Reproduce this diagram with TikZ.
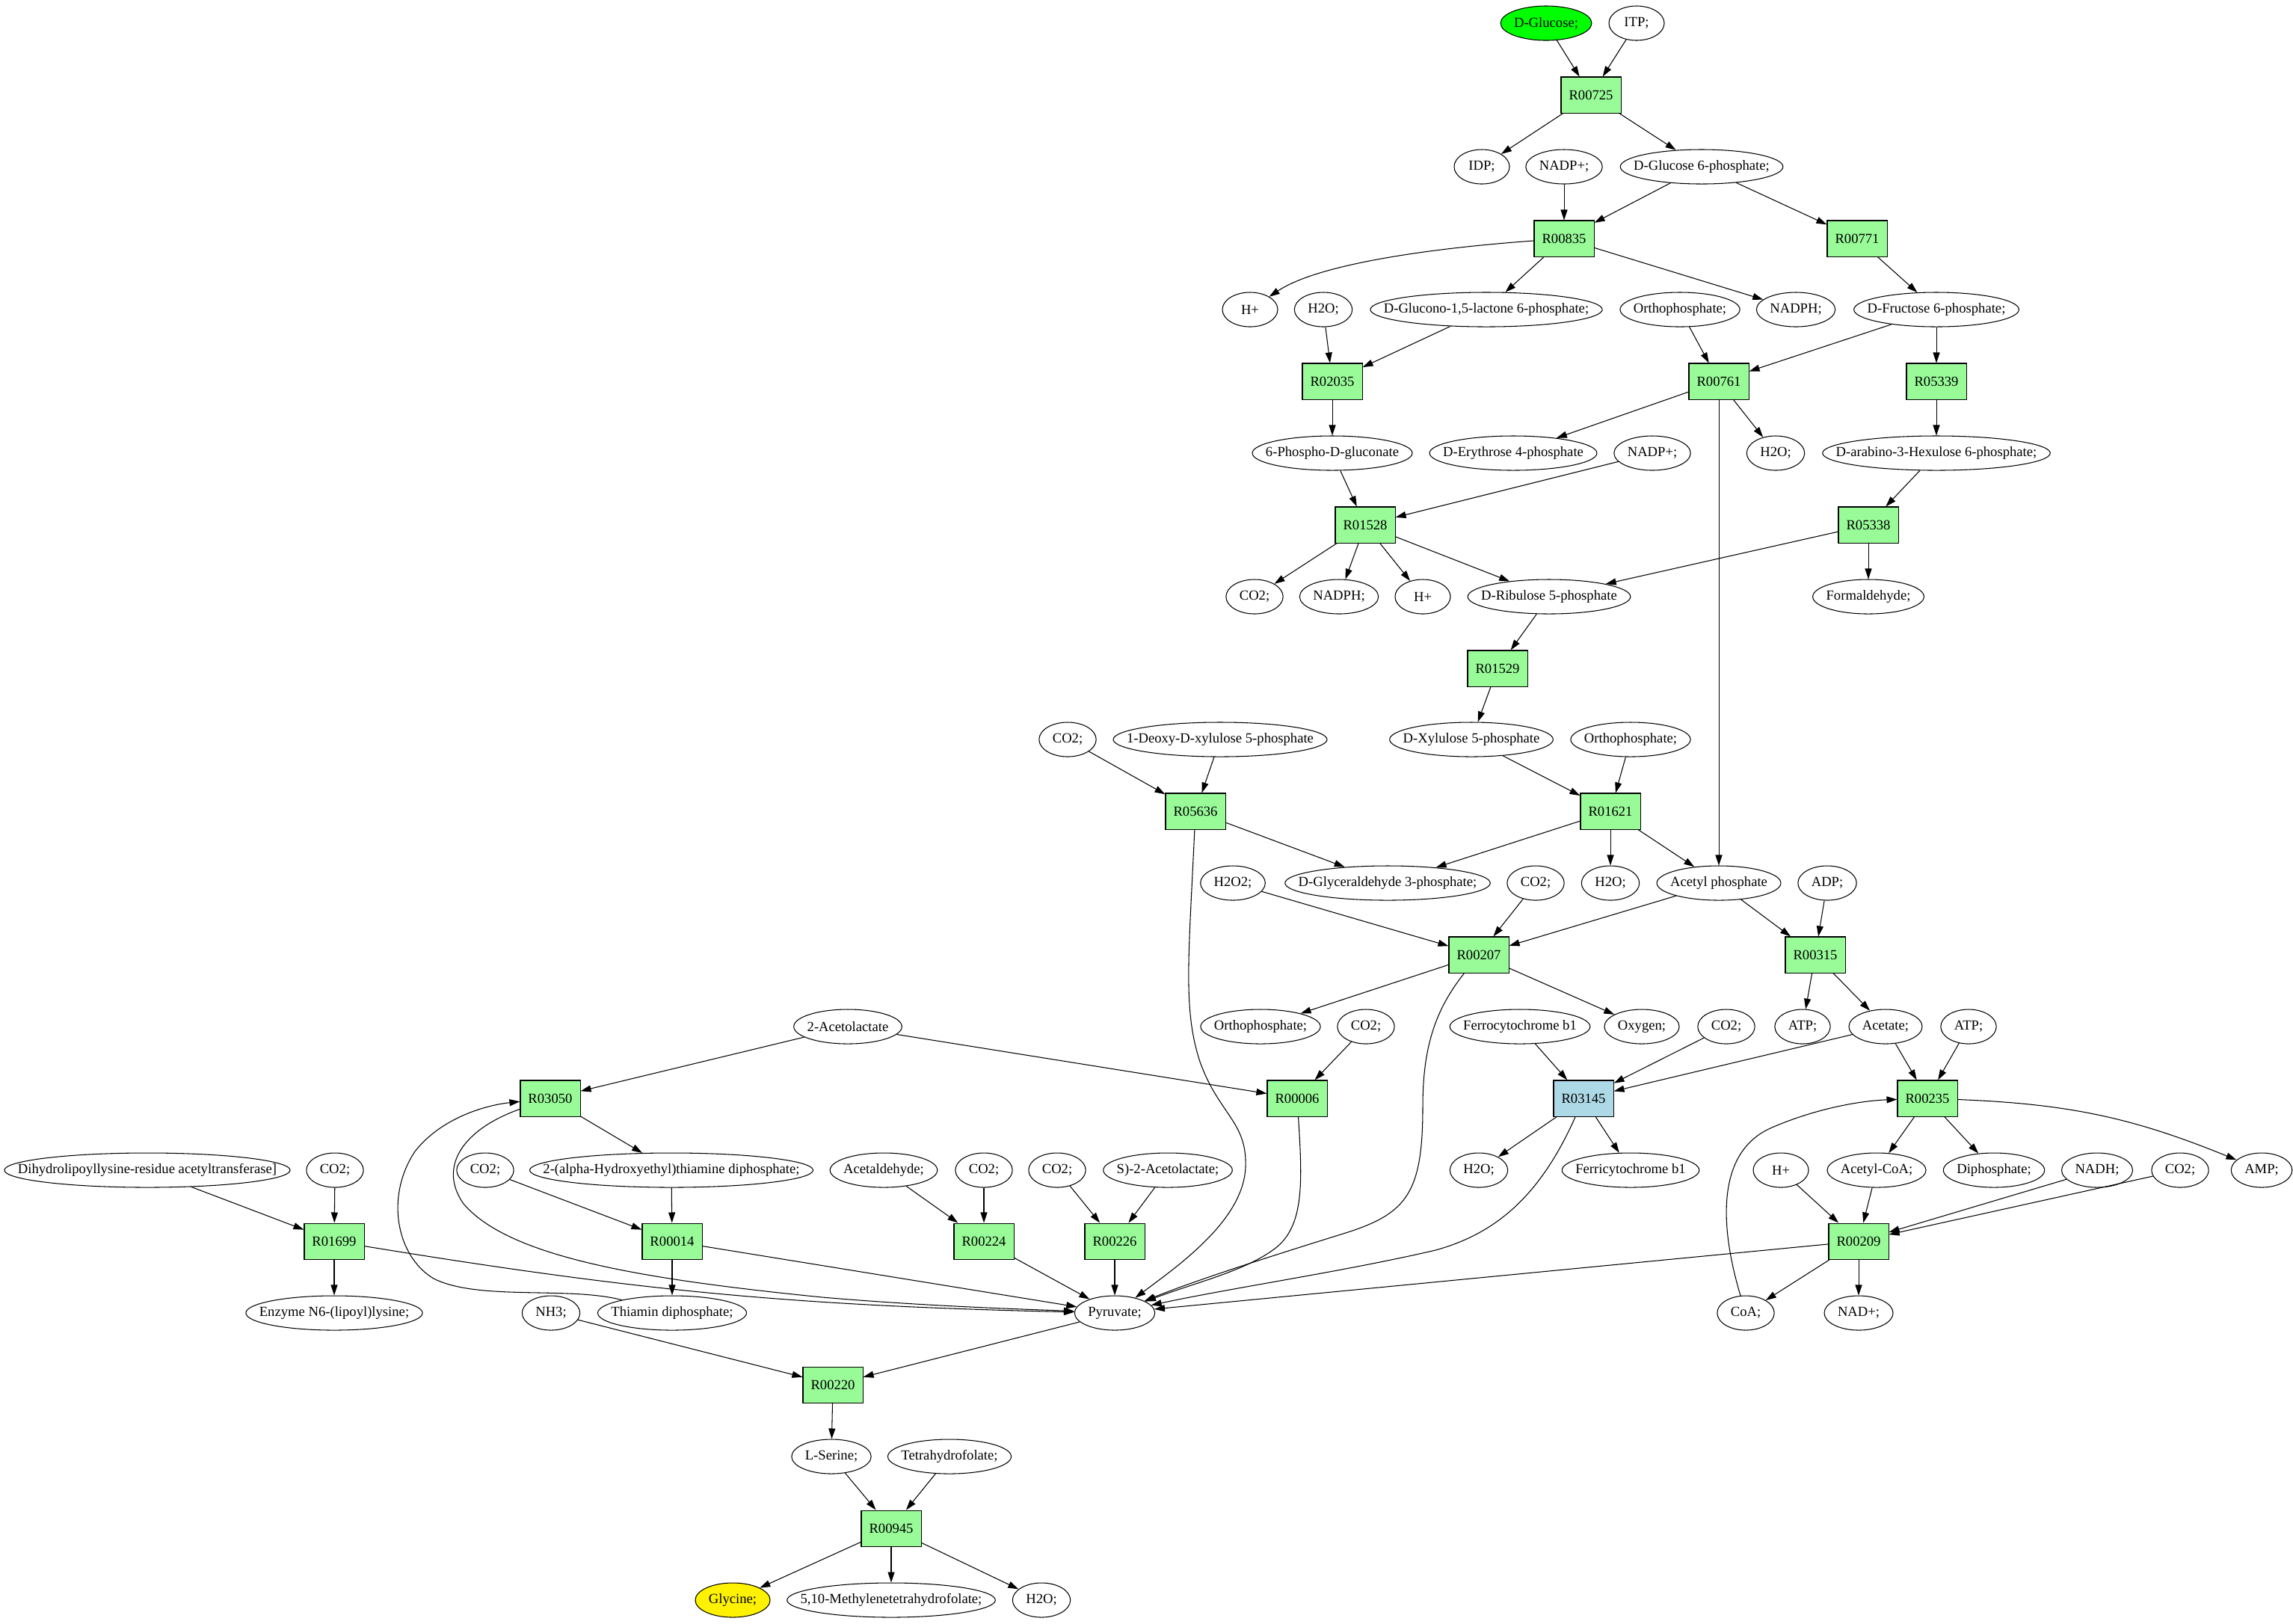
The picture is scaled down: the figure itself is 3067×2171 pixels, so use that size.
\documentclass[tikz,border=0pt]{standalone}
\usepackage{fontspec}
\setmainfont{Liberation Serif}
\usepackage{xcolor}
\usetikzlibrary{arrows.meta,shapes.geometric}

\definecolor{rgreen}{HTML}{98FB98}
\definecolor{rblue}{HTML}{ADD8E6}
\definecolor{glcgreen}{HTML}{00FF00}

\tikzset{
  % the label box is squeezed so that the ellipse hugs the text
  met/.style={ellipse, draw, inner xsep=0.127cm, inner ysep=0.04cm, minimum width=0.74cm, minimum height=0.46cm,
    execute at begin node={\setbox0=\hbox\bgroup},
    execute at end node={\egroup\hbox to 0.7071\wd0{\hss\box0\hss}}},
  rxn/.style={draw, fill=rgreen, minimum width=0.8cm, minimum height=0.48cm, inner sep=0pt},
  flow/.style={-{Triangle[length=0.14cm,width=0.09cm]}}
}

\begin{document}
\begin{tikzpicture}[x=0.01cm, y=-0.01cm, line width=0.3pt, font=\fontsize{5.3}{6}\selectfont]
  \useasboundingbox (0,0) rectangle (3067,2171);

  % Glucose and the pentose phosphate part
  \node[met, fill=glcgreen] (glc) at (2068,31) {D-Glucose;};
  \node[met] (itp) at (2189,31) {ITP;};
  \node[rxn] (r00725) at (2128,127) {R00725};
  \node[met] (idp) at (1982,223) {IDP;};
  \node[met] (nadpa) at (2092,223) {NADP+;};
  \node[met] (gsixp) at (2276,223) {D-Glucose 6-phosphate;};
  \node[rxn] (r00835) at (2092,319) {R00835};
  \node[rxn] (r00771) at (2484,319) {R00771};
  \node[met] (hpa) at (1672,414) {H+};
  \node[met] (h2oa) at (1770,414) {H2O;};
  \node[met] (glucono) at (1988,414) {D-Glucono-1,5-lactone 6-phosphate;};
  \node[met] (phosa) at (2247,414) {Orthophosphate;};
  \node[met] (nadpha) at (2402,414) {NADPH;};
  \node[met] (fsixp) at (2590,414) {D-Fructose 6-phosphate;};
  \node[rxn] (r02035) at (1782,510) {R02035};
  \node[rxn] (r00761) at (2299,510) {R00761};
  \node[rxn] (r05339) at (2590,510) {R05339};
  \node[met] (pgluc) at (1782,606) {6-Phospho-D-gluconate};
  \node[met] (ery) at (2024,606) {D-Erythrose 4-phosphate};
  \node[met] (nadpb) at (2210,606) {NADP+;};
  \node[met] (h2ob) at (2375,606) {H2O;};
  \node[met] (hexu) at (2590,606) {D-arabino-3-Hexulose 6-phosphate;};
  \node[rxn] (r01528) at (1826,702) {R01528};
  \node[rxn] (r05338) at (2499,702) {R05338};
  \node[met] (co2a) at (1678,798) {CO2;};
  \node[met] (nadphb) at (1791,798) {NADPH;};
  \node[met] (hpb) at (1903,798) {H+};
  \node[met] (ribu) at (2072,798) {D-Ribulose 5-phosphate};
  \node[met] (form) at (2499,798) {Formaldehyde;};
  \node[rxn] (r01529) at (2003,894) {R01529};
  \node[met] (co2b) at (1428,989) {CO2;};
  \node[met] (deoxy) at (1632,989) {1-Deoxy-D-xylulose 5-phosphate};
  \node[met] (xylu) at (1968,989) {D-Xylulose 5-phosphate};
  \node[met] (phosb) at (2181,989) {Orthophosphate;};
  \node[rxn] (r05636) at (1599,1085) {R05636};
  \node[rxn] (r01621) at (2154,1085) {R01621};
  \node[met] (hhoo) at (1649,1181) {H2O2;};
  \node[met] (gap) at (1856,1181) {D-Glyceraldehyde 3-phosphate;};
  \node[met] (co2c) at (2054,1181) {CO2;};
  \node[met] (h2oc) at (2154,1181) {H2O;};
  \node[met] (acp) at (2299,1181) {Acetyl phosphate};
  \node[met] (adp) at (2444,1181) {ADP;};
  \node[rxn] (r00207) at (1978,1277) {R00207};
  \node[rxn] (r00315) at (2428,1277) {R00315};

  % Reactions round pyruvate
  \node[met] (acl) at (1134,1373) {2-Acetolactate};
  \node[met] (phosc) at (1686,1373) {Orthophosphate;};
  \node[met] (co2d) at (1827,1373) {CO2;};
  \node[met] (ferro) at (2033,1373) {Ferrocytochrome b1};
  \node[met] (oxy) at (2196,1373) {Oxygen;};
  \node[met] (co2e) at (2309,1373) {CO2;};
  \node[met] (atpa) at (2411,1373) {ATP;};
  \node[met] (ace) at (2522,1373) {Acetate;};
  \node[met] (atpb) at (2633,1373) {ATP;};
  \node[rxn] (r03050) at (736,1469) {R03050};
  \node[rxn] (r00006) at (1735,1469) {R00006};
  \node[rxn, fill=rblue] (r03145) at (2118,1469) {R03145};
  \node[rxn] (r00235) at (2578,1469) {R00235};
  \node[met] (dihydro) at (197,1565) {Dihydrolipoyllysine-residue acetyltransferase]};
  \node[met] (co2f) at (448,1565) {CO2;};
  \node[met] (co2g) at (649,1565) {CO2;};
  \node[met] (hetpp) at (898,1565) {2-(alpha-Hydroxyethyl)thiamine diphosphate;};
  \node[met] (acald) at (1182,1565) {Acetaldehyde;};
  \node[met] (co2h) at (1316,1565) {CO2;};
  \node[met] (co2i) at (1414,1565) {CO2;};
  \node[met] (sacl) at (1562,1565) {S)-2-Acetolactate;};
  \node[met] (h2od) at (1978,1565) {H2O;};
  \node[met] (ferri) at (2181,1565) {Ferricytochrome b1};
  \node[met] (hpc) at (2382,1565) {H+};
  \node[met] (accoa) at (2510,1565) {Acetyl-CoA;};
  \node[met] (ppi) at (2667,1565) {Diphosphate;};
  \node[met] (nadh) at (2805,1565) {NADH;};
  \node[met] (co2j) at (2916,1565) {CO2;};
  \node[met] (amp) at (3025,1565) {AMP;};
  \node[rxn] (r01699) at (447,1660) {R01699};
  \node[rxn] (r00014) at (899,1660) {R00014};
  \node[rxn] (r00224) at (1316,1660) {R00224};
  \node[rxn] (r00226) at (1491,1660) {R00226};
  \node[rxn] (r00209) at (2486,1660) {R00209};
  \node[met] (lipoyl) at (447,1756) {Enzyme N6-(lipoyl)lysine;};
  \node[met] (nh3) at (737,1756) {NH3;};
  \node[met] (tpp) at (899,1756) {Thiamin diphosphate;};
  \node[met] (pyr) at (1491,1756) {Pyruvate;};
  \node[met] (coa) at (2335,1756) {CoA;};
  \node[met] (nad) at (2486,1756) {NAD+;};

  % Serine and glycine
  \node[rxn] (r00220) at (1114,1852) {R00220};
  \node[met] (ser) at (1112,1948) {L-Serine;};
  \node[met] (thf) at (1270,1948) {Tetrahydrofolate;};
  \node[rxn] (r00945) at (1192,2044) {R00945};
  \node[met, fill=yellow] (gly) at (980,2140) {Glycine;};
  \node[met] (mthf) at (1192,2140) {5,10-Methylenetetrahydrofolate;};
  \node[met] (h2oe) at (1393,2140) {H2O;};

  % R00725
  \draw[flow] (glc) -- (r00725);
  \draw[flow] (itp) -- (r00725);
  \draw[flow] (r00725) -- (idp);
  \draw[flow] (r00725) -- (gsixp);
  % R00835
  \draw[flow] (nadpa) -- (r00835);
  \draw[flow] (gsixp) -- (r00835);
  \draw[flow] (r00835) .. controls (1900,333) and (1760,355) .. (hpa);
  \draw[flow] (r00835) -- (glucono);
  \draw[flow] (r00835) -- (nadpha);
  % R00771
  \draw[flow] (gsixp) -- (r00771);
  \draw[flow] (r00771) -- (fsixp);
  % R02035
  \draw[flow] (h2oa) -- (r02035);
  \draw[flow] (glucono) -- (r02035);
  \draw[flow] (r02035) -- (pgluc);
  % R00761
  \draw[flow] (phosa) -- (r00761);
  \draw[flow] (fsixp) -- (r00761);
  \draw[flow] (r00761) -- (ery);
  \draw[flow] (r00761) -- (h2ob);
  \draw[flow] (r00761) -- (acp);
  % R05339
  \draw[flow] (fsixp) -- (r05339);
  \draw[flow] (r05339) -- (hexu);
  % R01528
  \draw[flow] (pgluc) -- (r01528);
  \draw[flow] (nadpb) -- (r01528);
  \draw[flow] (r01528) -- (co2a);
  \draw[flow] (r01528) -- (nadphb);
  \draw[flow] (r01528) -- (hpb);
  \draw[flow] (r01528) -- (ribu);
  % R05338
  \draw[flow] (hexu) -- (r05338);
  \draw[flow] (r05338) -- (ribu);
  \draw[flow] (r05338) -- (form);
  % R01529
  \draw[flow] (ribu) -- (r01529);
  \draw[flow] (r01529) -- (xylu);
  % R05636
  \draw[flow] (co2b) -- (r05636);
  \draw[flow] (deoxy) -- (r05636);
  \draw[flow] (r05636) -- (gap);
  \draw[flow] (r05636) .. controls (1590,1280) and (1582,1350) .. (1605,1420) .. controls (1630,1490) and (1668,1500) .. (1666,1560) .. controls (1664,1630) and (1580,1690) .. (pyr);
  % R01621
  \draw[flow] (xylu) -- (r01621);
  \draw[flow] (phosb) -- (r01621);
  \draw[flow] (r01621) -- (gap);
  \draw[flow] (r01621) -- (h2oc);
  \draw[flow] (r01621) -- (acp);
  % R00207
  \draw[flow] (hhoo) -- (r00207);
  \draw[flow] (co2c) -- (r00207);
  \draw[flow] (acp) -- (r00207);
  \draw[flow] (r00207) -- (phosc);
  \draw[flow] (r00207) -- (oxy);
  \draw[flow] (r00207) .. controls (1920,1350) and (1903,1400) .. (1903,1480) .. controls (1903,1600) and (1880,1625) .. (1790,1652) .. controls (1700,1680) and (1600,1712) .. (pyr);
  % R00315
  \draw[flow] (acp) -- (r00315);
  \draw[flow] (adp) -- (r00315);
  \draw[flow] (r00315) -- (atpa);
  \draw[flow] (r00315) -- (ace);
  % R03050
  \draw[flow] (acl) -- (r03050);
  \draw[flow] (tpp) .. controls (760,1720) and (640,1740) .. (580,1710) .. controls (530,1680) and (515,1600) .. (555,1540) .. controls (590,1495) and (650,1478) .. (r03050);
  \draw[flow] (r03050) -- (hetpp);
  \draw[flow] (r03050) .. controls (620,1510) and (585,1560) .. (620,1610) .. controls (680,1680) and (850,1710) .. (1100,1735) .. controls (1250,1748) and (1400,1752) .. (pyr);
  % R00006
  \draw[flow] (acl) -- (r00006);
  \draw[flow] (co2d) -- (r00006);
  \draw[flow] (r00006) .. controls (1742,1580) and (1745,1640) .. (1705,1670) .. controls (1665,1700) and (1600,1715) .. (pyr);
  % R03145
  \draw[flow] (ferro) -- (r03145);
  \draw[flow] (co2e) -- (r03145);
  \draw[flow] (ace) -- (r03145);
  \draw[flow] (r03145) -- (h2od);
  \draw[flow] (r03145) -- (ferri);
  \draw[flow] (r03145) .. controls (2060,1600) and (2000,1650) .. (1920,1672) .. controls (1800,1700) and (1650,1722) .. (pyr);
  % R00235
  \draw[flow] (ace) -- (r00235);
  \draw[flow] (atpb) -- (r00235);
  \draw[flow] (coa) .. controls (2300,1640) and (2295,1540) .. (2370,1508) .. controls (2430,1482) and (2490,1472) .. (r00235);
  \draw[flow] (r00235) -- (accoa);
  \draw[flow] (r00235) -- (ppi);
  \draw[flow] (r00235) to[bend left=10] (amp);
  % R00209
  \draw[flow] (hpc) -- (r00209);
  \draw[flow] (accoa) -- (r00209);
  \draw[flow] (nadh) -- (r00209);
  \draw[flow] (co2j) -- (r00209);
  \draw[flow] (r00209) -- (coa);
  \draw[flow] (r00209) -- (nad);
  \draw[flow] (r00209) -- (pyr);
  % R01699
  \draw[flow] (dihydro) -- (r01699);
  \draw[flow] (co2f) -- (r01699);
  \draw[flow] (r01699) -- (lipoyl);
  \draw[flow] (r01699) to[bend right=4] (pyr);
  % R00014
  \draw[flow] (co2g) -- (r00014);
  \draw[flow] (hetpp) -- (r00014);
  \draw[flow] (r00014) -- (tpp);
  \draw[flow] (r00014) -- (pyr);
  % R00224
  \draw[flow] (acald) -- (r00224);
  \draw[flow] (co2h) -- (r00224);
  \draw[flow] (r00224) -- (pyr);
  % R00226
  \draw[flow] (co2i) -- (r00226);
  \draw[flow] (sacl) -- (r00226);
  \draw[flow] (r00226) -- (pyr);
  % R00220
  \draw[flow] (nh3) -- (r00220);
  \draw[flow] (pyr) -- (r00220);
  \draw[flow] (r00220) -- (ser);
  % R00945
  \draw[flow] (ser) -- (r00945);
  \draw[flow] (thf) -- (r00945);
  \draw[flow] (r00945) -- (gly);
  \draw[flow] (r00945) -- (mthf);
  \draw[flow] (r00945) -- (h2oe);
\end{tikzpicture}
\end{document}
